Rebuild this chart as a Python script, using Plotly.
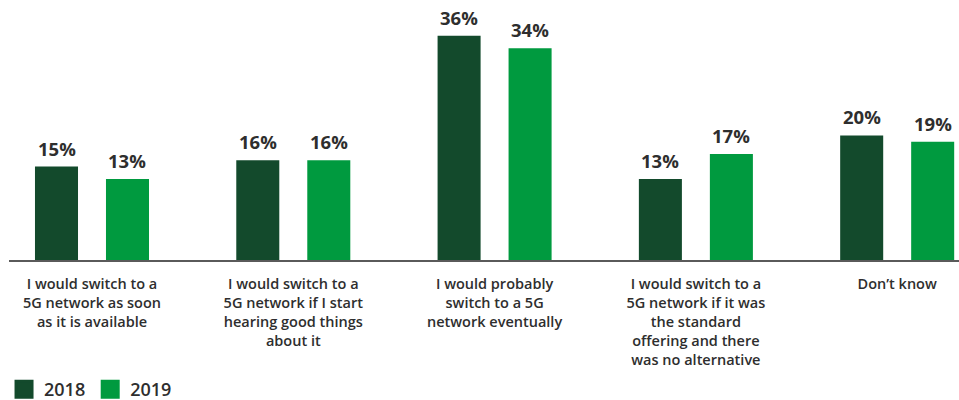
import plotly.graph_objects as go

# Survey responses on switching to a 5G network, share of respondents (%)
categories = [
    "I would switch to a<br>5G network as soon<br>as it is available",
    "I would switch to a<br>5G network if I start<br>hearing good things<br>about it",
    "I would probably<br>switch to a 5G<br>network eventually",
    "I would switch to a<br>5G network if it was<br>the standard<br>offering and there<br>was no alternative",
    "Don\u2019t know",
]
values_2018 = [15, 16, 36, 13, 20]
values_2019 = [13, 16, 34, 17, 19]
years = ["2018", "2019"]

DARK_GREEN = "#134A2C"
BRIGHT_GREEN = "#009A3F"
TEXT = "#2e2e2e"
FONT = "Open Sans"

x_pos = list(range(len(categories)))
BAR_GAP = 0.2946
GROUP_GAP = 0.394
half_slot = (1 - BAR_GAP) / 4  # offset of each bar centre from its category centre

fig = go.Figure()
for name, vals, color in [(years[0], values_2018, DARK_GREEN), (years[1], values_2019, BRIGHT_GREEN)]:
    fig.add_trace(go.Bar(
        x=x_pos, y=vals, name=name, marker=dict(color=color, line=dict(width=0)),
        showlegend=False, hoverinfo="skip",
    ))
    # legend swatch
    fig.add_trace(go.Scatter(
        x=[None], y=[None], mode="markers", name=name,
        marker=dict(symbol="square", size=16, color=color, line=dict(color=color, width=3)),
    ))

# value labels above each bar
for i in x_pos:
    for vals, sign in [(values_2018, -1), (values_2019, 1)]:
        fig.add_annotation(
            x=i + sign * half_slot, y=vals[i], text=f"<b>{vals[i]}%</b>",
            showarrow=False, yanchor="bottom", yshift=4,
            font=dict(family=FONT, size=18.5, color=TEXT),
        )

fig.update_layout(
    width=959, height=400,
    margin=dict(l=9, r=0, t=10, b=140, pad=0, autoexpand=False),
    paper_bgcolor="white", plot_bgcolor="white",
    barmode="group", bargap=BAR_GAP, bargroupgap=GROUP_GAP,
    font=dict(family=FONT, color=TEXT),
    xaxis=dict(
        range=[-0.4123, 4.3071], tickvals=x_pos, ticktext=categories,
        showline=True, linecolor="#5a5a5a", linewidth=1.5,
        showgrid=False, zeroline=False, ticks="",
        ticklabelstandoff=10,
        tickfont=dict(family=FONT, size=14.5, color=TEXT, weight=600),
        fixedrange=True,
    ),
    yaxis=dict(range=[0, 40.13], visible=False, fixedrange=True),
    legend=dict(
        orientation="h", xref="container", x=0.0042, xanchor="left",
        yref="container", y=0.026, yanchor="middle",
        font=dict(family=FONT, size=18, color=TEXT, weight=600),
        itemclick=False, itemdoubleclick=False,
    ),
)

fig.write_html("out.html")
